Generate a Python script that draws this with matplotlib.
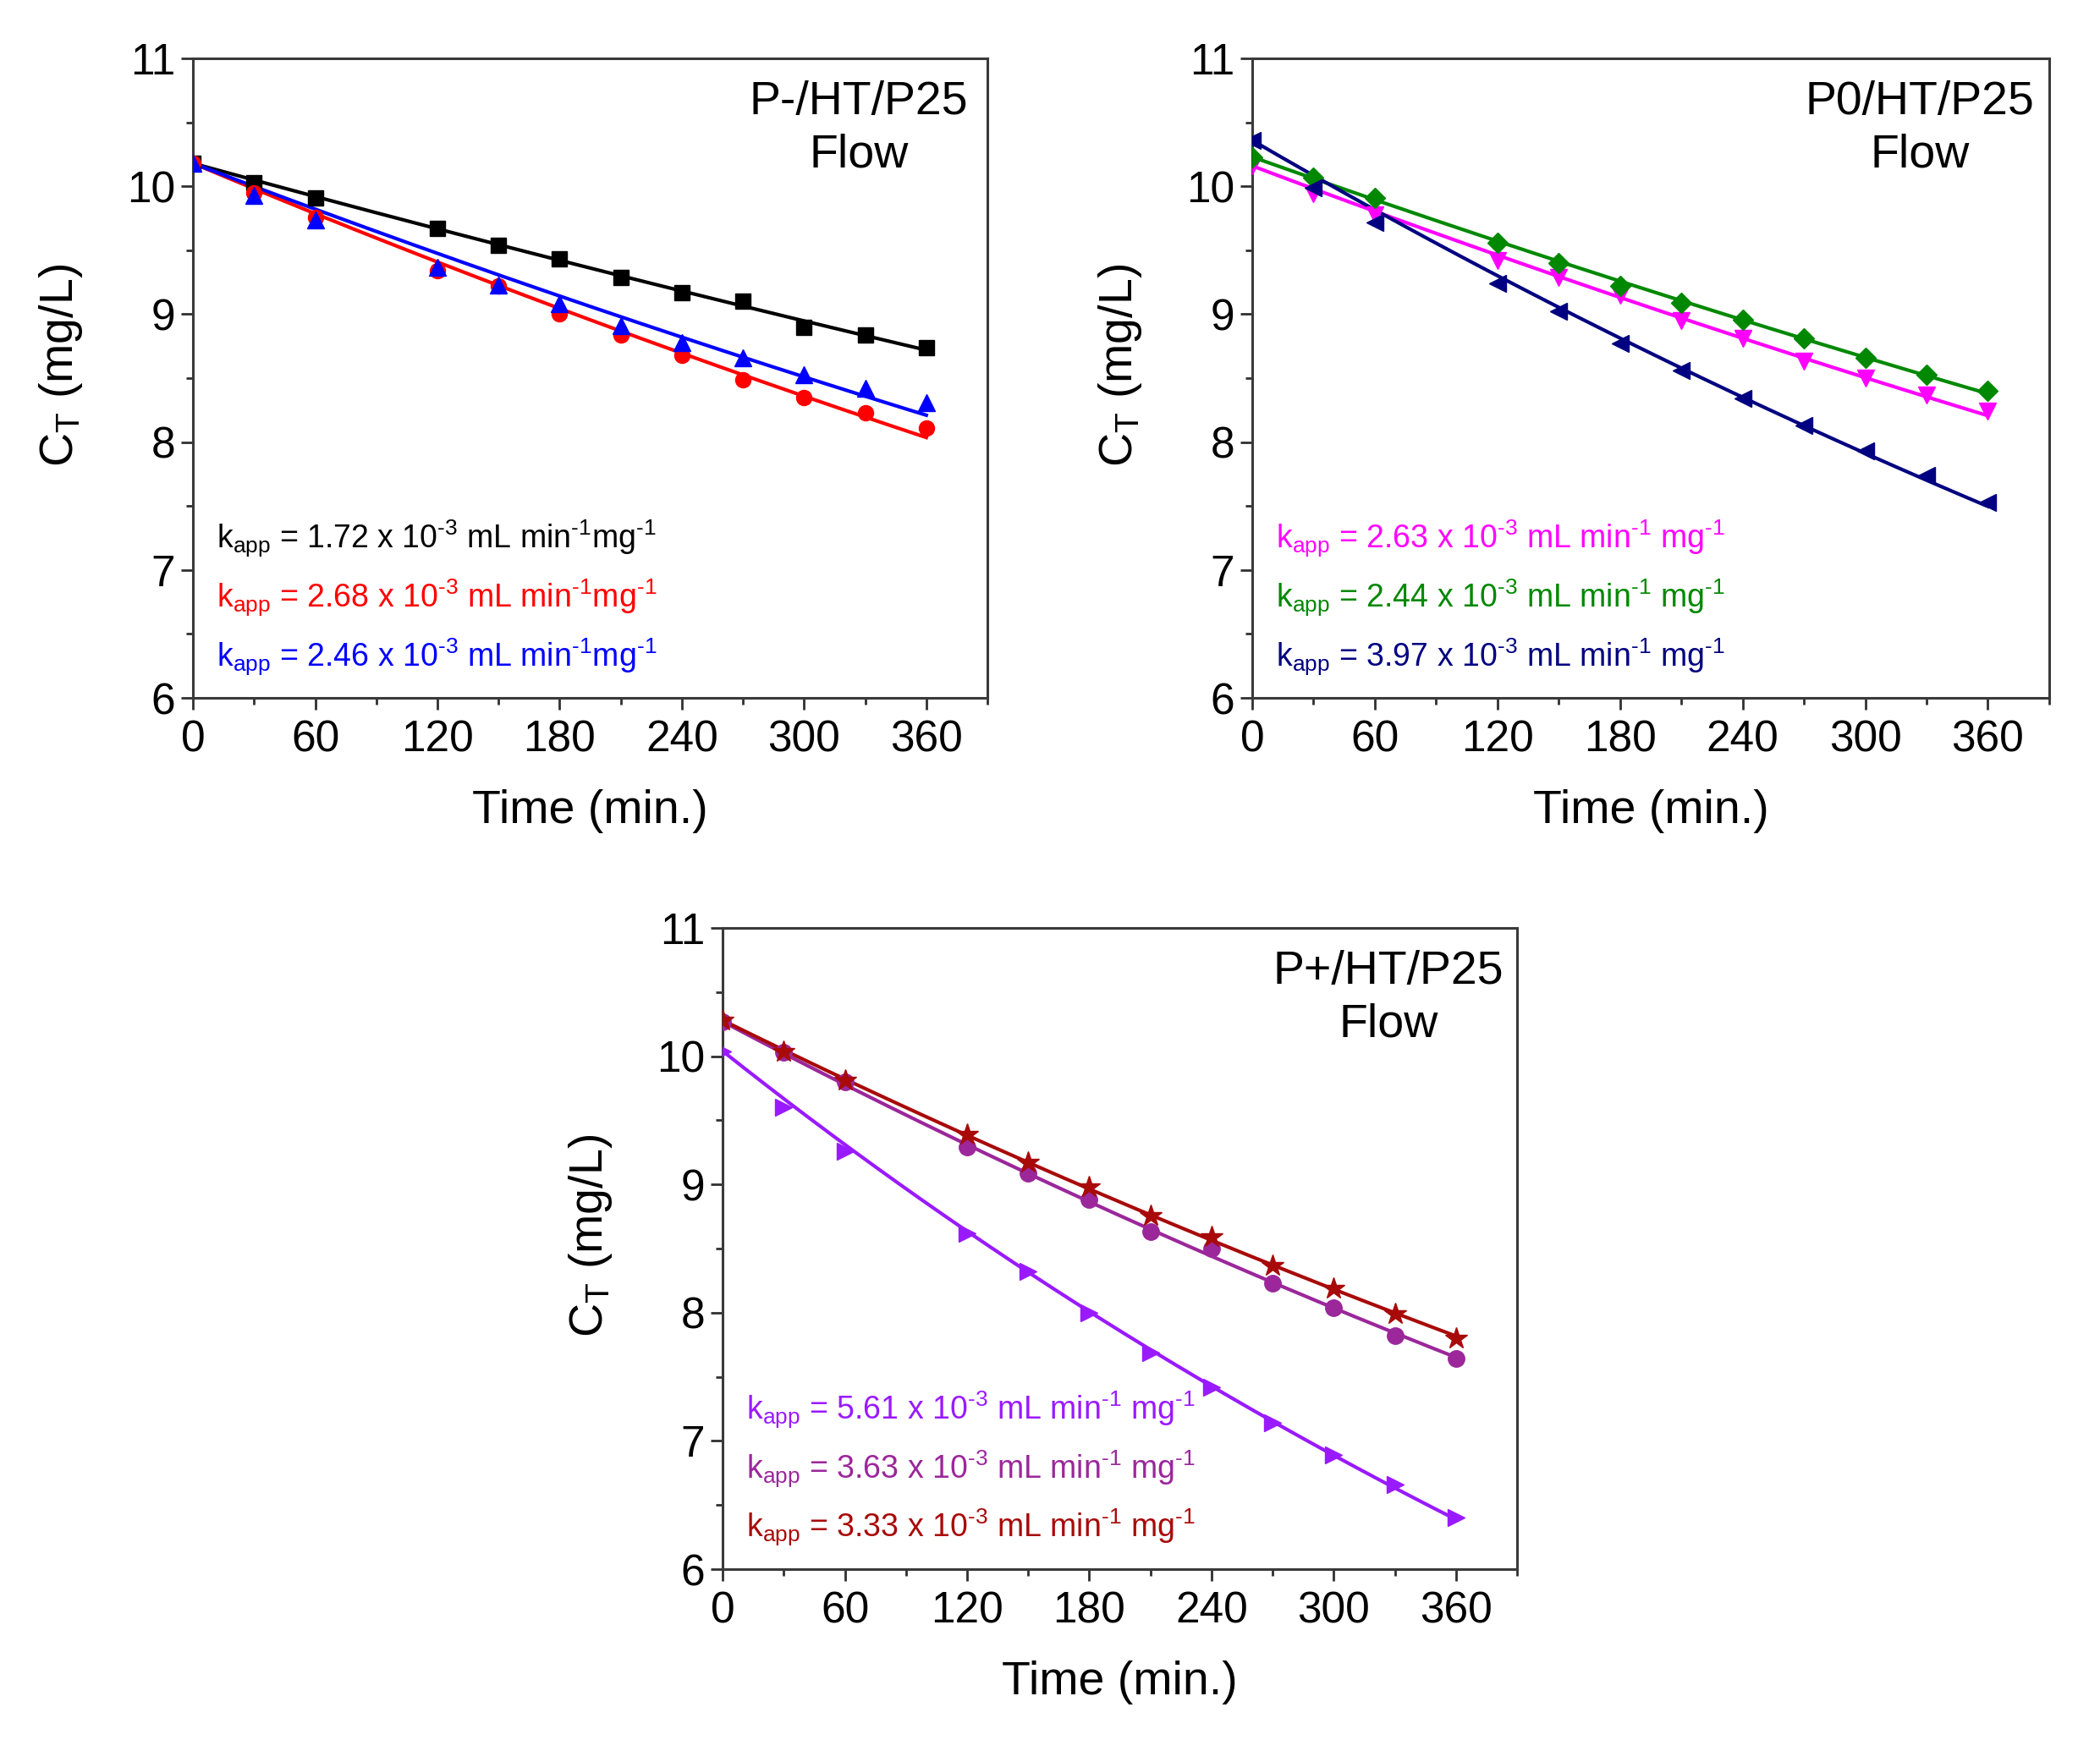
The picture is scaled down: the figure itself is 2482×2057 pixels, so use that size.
import numpy as np
import matplotlib
matplotlib.use("Agg")
import matplotlib.pyplot as plt
from matplotlib.ticker import MultipleLocator

plt.rcParams['font.family'] = ['Liberation Sans', 'DejaVu Sans']
plt.rcParams['mathtext.fontset'] = 'custom'
plt.rcParams['mathtext.rm'] = 'Liberation Sans'
plt.rcParams['mathtext.it'] = 'Liberation Sans:italic'

# sampling times (min)
time_min = [0, 30, 60, 120, 150, 180, 210, 240, 270, 300, 330, 360]

# P-/HT/P25
pm_black = [10.18, 10.03, 9.91, 9.67, 9.54, 9.43, 9.29, 9.17, 9.10, 8.90, 8.84, 8.74]
pm_red = [10.18, 9.95, 9.76, 9.34, 9.22, 9.00, 8.84, 8.68, 8.49, 8.35, 8.23, 8.11]
pm_blue = [10.18, 9.93, 9.74, 9.37, 9.23, 9.08, 8.91, 8.78, 8.66, 8.53, 8.42, 8.31]
pm_kapp = ['1.72', '2.68', '2.46']

# P0/HT/P25
p0_magenta = [10.16, 9.94, 9.78, 9.42, 9.29, 9.15, 8.95, 8.81, 8.63, 8.50, 8.37, 8.24]
p0_green = [10.23, 10.07, 9.91, 9.56, 9.40, 9.22, 9.09, 8.96, 8.81, 8.66, 8.53, 8.40]
p0_navy = [10.36, 9.99, 9.72, 9.24, 9.02, 8.77, 8.56, 8.34, 8.13, 7.93, 7.74, 7.53]
p0_kapp = ['2.63', '2.44', '3.97']

# P+/HT/P25
pp_violet = [10.04, 9.60, 9.26, 8.62, 8.32, 8.00, 7.69, 7.42, 7.14, 6.89, 6.66, 6.40]
pp_purple = [10.27, 10.03, 9.80, 9.29, 9.09, 8.88, 8.63, 8.50, 8.23, 8.04, 7.82, 7.64]
pp_wine = [10.28, 10.04, 9.81, 9.39, 9.17, 8.98, 8.76, 8.59, 8.37, 8.19, 7.99, 7.80]
pp_kapp = ['5.61', '3.63', '3.33']

panels = [
    {'rect': [0.0919, 0.5989, 0.3783, 0.3675], 'name': 'P-/HT/P25',
     'series': [(pm_black, '#000000', 's', 13), (pm_red, '#ff0000', 'o', 13),
                (pm_blue, '#0000ff', '^', 15)],
     'kapp': pm_kapp, 'gap': ''},
    {'rect': [0.5963, 0.5989, 0.3795, 0.3675], 'name': 'P0/HT/P25',
     'series': [(p0_magenta, '#ff00ff', 'v', 15), (p0_green, '#008800', 'D', 12),
                (p0_navy, '#000080', '<', 15)],
     'kapp': p0_kapp, 'gap': ' '},
    {'rect': [0.3441, 0.0982, 0.3783, 0.3685], 'name': 'P+/HT/P25',
     'series': [(pp_violet, '#9a1aff', '>', 15), (pp_purple, '#9b279b', 'o', 14),
                (pp_wine, '#a80a0a', '*', 19)],
     'kapp': pp_kapp, 'gap': ' '},
]

fig = plt.figure(figsize=(24.82, 20.57), dpi=100)
t = np.array(time_min, dtype=float)
t_fit = np.linspace(0, 360, 200)

for p in panels:
    ax = fig.add_axes(p['rect'])
    for vals, col, mk, ms in p['series']:
        c = np.array(vals)
        # first-order decay fit, C = C0 exp(-k t), C0 fixed at first point
        y = np.log(c / c[0])
        k = np.sum(t * y) / np.sum(t * t)
        ax.plot(t_fit, c[0] * np.exp(k * t_fit), color=col, lw=3, zorder=2)
        ax.plot(t, c, ls='none', marker=mk, ms=ms, color=col, mec=col, zorder=3)

    ax.set_xlim(0, 390)
    ax.set_ylim(6, 11)
    ax.set_xticks(range(0, 361, 60))
    ax.set_yticks(range(6, 12))
    ax.xaxis.set_minor_locator(MultipleLocator(30))
    ax.yaxis.set_minor_locator(MultipleLocator(0.5))
    ax.tick_params(which='both', direction='out', top=False, right=False,
                   width=2, color='#303030')
    ax.tick_params(which='major', length=10, labelsize=37)
    ax.tick_params(axis='x', which='major', pad=8)
    ax.tick_params(axis='y', which='major', pad=5)
    ax.tick_params(which='minor', length=6)
    for sp in ax.spines.values():
        sp.set_linewidth(2.2)
        sp.set_color('#3a3a3a')

    ax.set_xlabel('Time (min.)', fontsize=40, va='center')
    ax.set_ylabel(r'C$_{\rm T}$ (mg/L)', fontsize=40, va='center')
    ax.xaxis.set_label_coords(0.5, -0.177)
    ax.yaxis.set_label_coords(-0.166, 0.52)

    ax.text(0.838, 0.89, p['name'] + '\nFlow', transform=ax.transAxes,
            ha='center', va='center', fontsize=40, linespacing=1.25)

    ys = [0.234, 0.1415, 0.050]
    for i, (vals, col, mk, ms) in enumerate(p['series']):
        s = (r'k$_{\rm app}$ = ' + p['kapp'][i] + r' x 10$^{\text{-3}}$ mL min$^{\text{-1}}$'
             + p['gap'] + r'mg$^{\text{-1}}$')
        ax.text(0.03, ys[i], s, transform=ax.transAxes, color=col,
                fontsize=27, ha='left', va='baseline')

fig.savefig('out.png', dpi=100, facecolor='white')
